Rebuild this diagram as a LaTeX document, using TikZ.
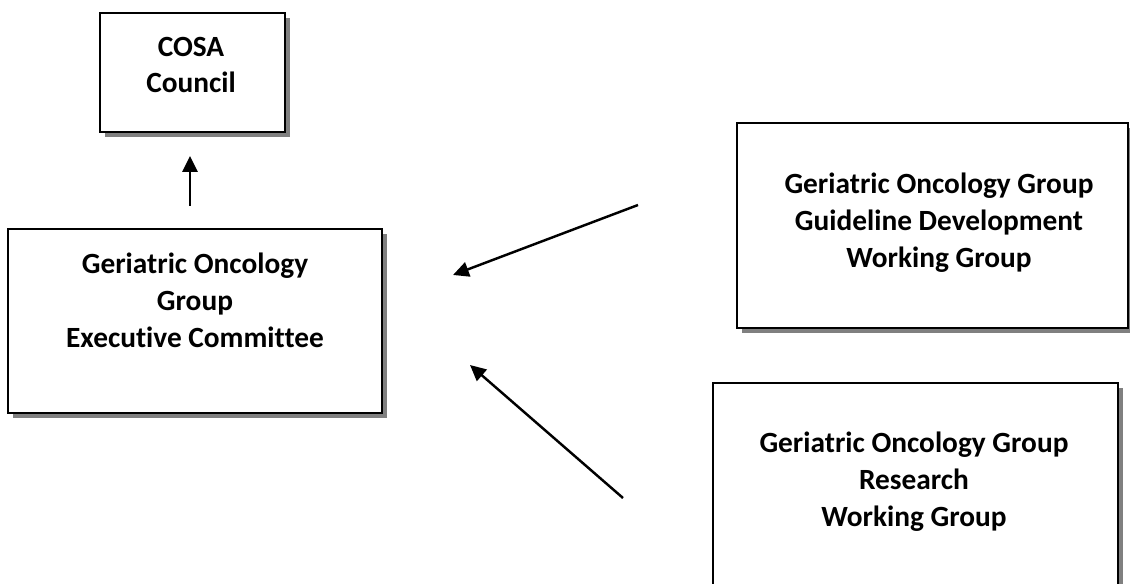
\documentclass[tikz,border=0pt]{standalone}
\usepackage{fontspec}
\setmainfont{Carlito}[Ligatures=NoCommon]
\usetikzlibrary{arrows.meta,shadows}

\tikzset{
  orgbox/.style={draw, line width=1.1pt, fill=white, inner sep=0pt,
    drop shadow={shadow xshift=0.1cm, shadow yshift=-0.1cm, fill=black!50, opacity=1}},
  orgtext/.style={align=center, inner sep=0pt, font=\bfseries\fontsize{16.7}{21}\selectfont},
  link/.style={line width=1.4pt, -{Triangle[length=9pt,width=8.5pt]}}
}

\begin{document}
\begin{tikzpicture}[x=0.02cm, y=-0.02cm]
    \clip (0,0) rectangle (1130,584);
    \useasboundingbox (0,0) rectangle (1130,584);

    % boxes
    \node[orgbox, minimum width=3.7cm, minimum height=2.38cm] (cosa) at (192.5,72.5) {};
    \node[orgbox, minimum width=7.48cm, minimum height=3.68cm] (exec) at (195,321) {};
    \node[orgbox, minimum width=7.82cm, minimum height=4.1cm] (guide) at (932.5,225.5) {};
    \node[orgbox, minimum width=8.1cm, minimum height=4.4cm] (research) at (915.5,493) {};

    % texts
    \node[orgtext] (cosatxt) at (191,65) {COSA\\Council};
    \node[orgtext] (exectxt) at (195,300) {Geriatric Oncology\\Group\\Executive Committee};
    \node[orgtext] (guidetxt) at (939,223) {Geriatric Oncology Group\\Guideline Development\\Working Group};
    \node[orgtext] (researchtxt) at (914,482) {Geriatric Oncology Group\\Research\\Working Group};

    % arrows
    \coordinate (up0) at (190,206);
    \coordinate (up1) at (190,156);
    \coordinate (gd0) at (638,205);
    \coordinate (gd1) at (453,275);
    \coordinate (rs0) at (623,498);
    \coordinate (rs1) at (470,365);
    \draw[link] (up0) -- (up1);
    \draw[link] (gd0) -- (gd1);
    \draw[link] (rs0) -- (rs1);
\end{tikzpicture}
\end{document}
